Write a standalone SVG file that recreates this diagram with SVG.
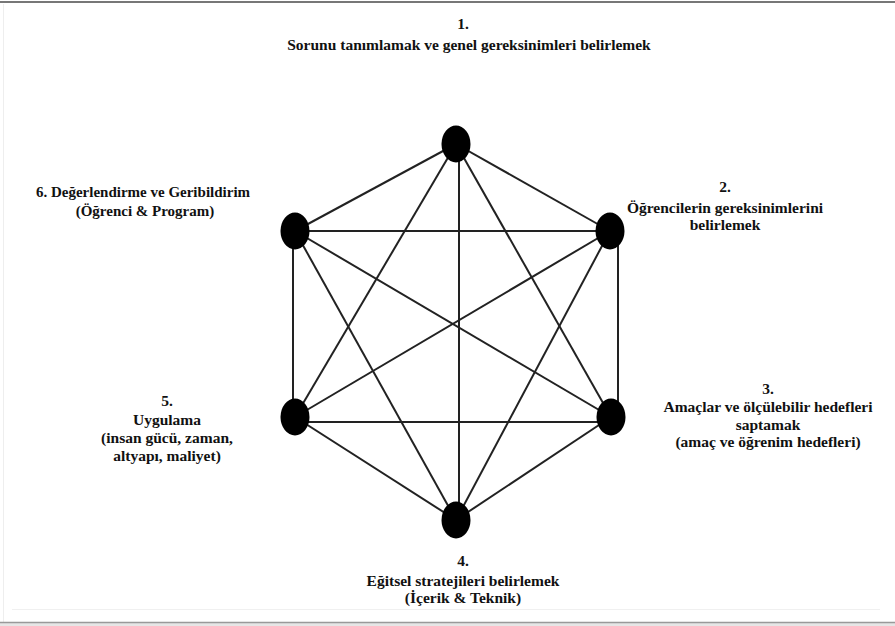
<svg xmlns="http://www.w3.org/2000/svg" width="895" height="626" viewBox="0 0 895 626">
<style>
.t{font-family:"Liberation Serif","Times New Roman",serif;font-weight:bold;font-size:15.5px;fill:#111;text-anchor:middle}
.s{font-size:15px}
.e{stroke:#222;stroke-width:2;fill:none}
.n{fill:#000}
</style>
<rect x="0" y="0" width="895" height="626" fill="#fff"/>
<line x1="0" y1="2" x2="895" y2="2" stroke="#777" stroke-width="2"/>
<line x1="3.5" y1="4" x2="3.5" y2="622" stroke="#eee" stroke-width="1"/>
<line x1="12" y1="609.5" x2="880" y2="609.5" stroke="#f0f0f0" stroke-width="1"/>
<rect x="0" y="622" width="895" height="4" fill="#e6e6e6"/>
<line x1="0" y1="622.5" x2="895" y2="622.5" stroke="#999" stroke-width="1.5"/>
<g id="connectors">
<line class="e" x1="456" y1="144" x2="610" y2="231"/>
<line class="e" x1="456" y1="144" x2="611" y2="417"/>
<line class="e" x1="459" y1="144" x2="459" y2="520"/>
<line class="e" x1="456" y1="144" x2="295" y2="417"/>
<line class="e" x1="456" y1="144" x2="295" y2="231"/>
<line class="e" x1="295" y1="231" x2="610" y2="231"/>
<line class="e" x1="618" y1="231" x2="618" y2="417"/>
<line class="e" x1="610" y1="231" x2="456" y2="520"/>
<line class="e" x1="610" y1="231" x2="295" y2="417"/>
<line class="e" x1="295" y1="231" x2="611" y2="417"/>
<line class="e" x1="295" y1="231" x2="456" y2="520"/>
<line class="e" x1="293" y1="231" x2="293" y2="417"/>
<line class="e" x1="295" y1="422" x2="611" y2="422"/>
<line class="e" x1="611" y1="417" x2="456" y2="520"/>
<line class="e" x1="295" y1="417" x2="456" y2="520"/>
</g>
<g id="node1"><ellipse class="n" cx="456" cy="144" rx="14.5" ry="18.5"/><text class="t" x="463" y="29">1.</text><text class="t" x="469" y="50">Sorunu tanımlamak ve genel gereksinimleri belirlemek</text></g>
<g id="node2"><ellipse class="n" cx="610" cy="231" rx="14.5" ry="18.5"/><text class="t" x="725" y="192">2.</text><text class="t" x="725" y="213">Öğrencilerin gereksinimlerini</text><text class="t" x="725" y="230">belirlemek</text></g>
<g id="node3"><ellipse class="n" cx="611" cy="417" rx="14.5" ry="18.5"/><text class="t" x="768" y="394">3.</text><text class="t" x="768" y="412">Amaçlar ve ölçülebilir hedefleri</text><text class="t" x="768" y="430">saptamak</text><text class="t" x="768" y="447">(amaç ve öğrenim hedefleri)</text></g>
<g id="node4"><ellipse class="n" cx="456" cy="520" rx="14.5" ry="18.5"/><text class="t" x="463" y="566">4.</text><text class="t" x="463" y="586">Eğitsel stratejileri belirlemek</text><text class="t" x="463" y="603">(İçerik &amp; Teknik)</text></g>
<g id="node5"><ellipse class="n" cx="295" cy="417" rx="14.5" ry="18.5"/><text class="t" x="167" y="406">5.</text><text class="t" x="167" y="425">Uygulama</text><text class="t" x="167" y="443">(insan gücü, zaman,</text><text class="t" x="167" y="461">altyapı, maliyet)</text></g>
<g id="node6"><ellipse class="n" cx="295" cy="231" rx="14.5" ry="18.5"/><text class="t s" x="143" y="197">6. Değerlendirme ve Geribildirim</text><text class="t s" x="145" y="216">(Öğrenci &amp; Program)</text></g>
</svg>
